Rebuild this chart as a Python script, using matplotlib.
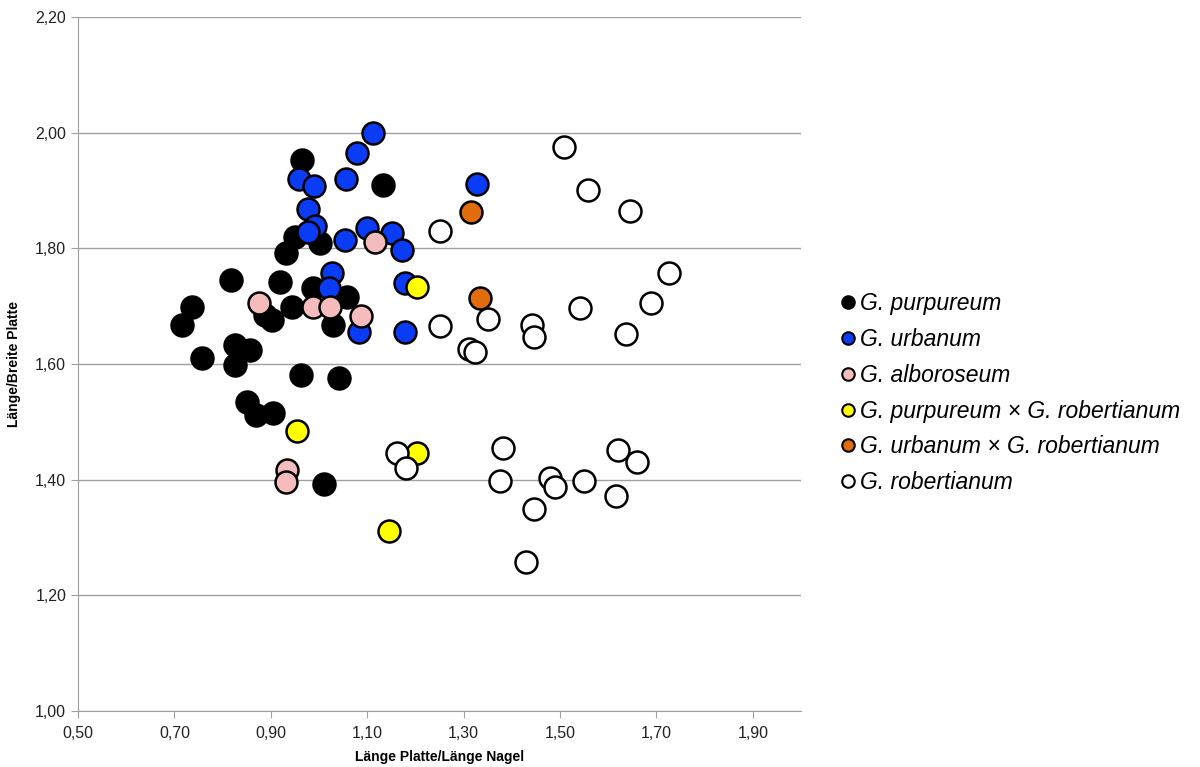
import matplotlib
matplotlib.use("Agg")
import matplotlib.pyplot as plt
from matplotlib.ticker import FuncFormatter, FixedLocator, MultipleLocator

plt.rcParams['font.family'] = ['Liberation Sans', 'DejaVu Sans']

# ratio length plate / length claw (x) and length / width plate (y)
purpureum_x = [0.716, 0.737, 0.757, 0.817, 0.826, 0.826, 0.857, 0.851, 0.869, 0.905,
               0.888, 0.902, 0.919, 0.944, 0.932, 0.950, 0.965, 0.963, 0.988, 1.002,
               1.029, 1.058, 1.041, 1.010, 1.133]
purpureum_y = [1.668, 1.699, 1.610, 1.745, 1.633, 1.598, 1.624, 1.534, 1.512, 1.515,
               1.685, 1.676, 1.742, 1.699, 1.792, 1.820, 1.953, 1.581, 1.731, 1.809,
               1.667, 1.716, 1.576, 1.392, 1.910]

urbanum_x = [1.112, 1.079, 0.959, 0.990, 1.056, 0.977, 0.992, 0.977, 1.054, 1.100,
             1.151, 1.172, 1.027, 1.021, 1.178, 1.083, 1.178, 1.328]
urbanum_y = [2.000, 1.965, 1.920, 1.908, 1.920, 1.868, 1.839, 1.828, 1.814, 1.835,
             1.826, 1.797, 1.757, 1.731, 1.740, 1.655, 1.655, 1.911]

alboroseum_x = [0.876, 0.988, 1.023, 1.087, 1.116, 0.934, 0.932]
alboroseum_y = [1.705, 1.698, 1.698, 1.683, 1.811, 1.416, 1.396]

purp_x_rob_x = [1.203, 0.954, 1.203, 1.145]
purp_x_rob_y = [1.733, 1.484, 1.446, 1.311]

urb_x_rob_x = [1.315, 1.334]
urb_x_rob_y = [1.862, 1.714]

robertianum_x = [1.508, 1.558, 1.645, 1.251, 1.726, 1.689, 1.541, 1.637, 1.251, 1.351,
                 1.442, 1.446, 1.311, 1.324, 1.162, 1.180, 1.382, 1.376, 1.479, 1.490,
                 1.550, 1.620, 1.660, 1.616, 1.446, 1.429]
robertianum_y = [1.975, 1.901, 1.865, 1.830, 1.757, 1.705, 1.697, 1.652, 1.666, 1.678,
                 1.667, 1.647, 1.626, 1.621, 1.446, 1.420, 1.455, 1.398, 1.403, 1.388,
                 1.398, 1.451, 1.431, 1.372, 1.349, 1.258]

x_ticks = [0.5, 0.7, 0.9, 1.1, 1.3, 1.5, 1.7, 1.9]

series = [
    ('G. purpureum', purpureum_x, purpureum_y, '#000000'),
    ('G. urbanum', urbanum_x, urbanum_y, '#0a3cf5'),
    ('G. alboroseum', alboroseum_x, alboroseum_y, '#f4bcbc'),
    ('G. purpureum × G. robertianum', purp_x_rob_x, purp_x_rob_y, '#ffff00'),
    ('G. urbanum × G. robertianum', urb_x_rob_x, urb_x_rob_y, '#e06c0c'),
    ('G. robertianum', robertianum_x, robertianum_y, '#ffffff'),
]

fig = plt.figure(figsize=(12, 7.67), dpi=100)
ax = fig.add_axes([0.065, 0.073, 0.6025, 0.905])

handles = []
for label, xs, ys, color in series:
    ax.scatter(xs, ys, s=250, c=color, edgecolors='black', linewidths=1.8, zorder=3)
    h, = ax.plot([], [], 'o', markersize=9, markerfacecolor=color,
                 markeredgecolor='black', markeredgewidth=1.5, linestyle='none',
                 label=label)
    handles.append(h)

ax.set_xlim(0.5, 2.0)
ax.set_ylim(1.0, 2.2)
ax.xaxis.set_major_locator(FixedLocator(x_ticks))
ax.yaxis.set_major_locator(MultipleLocator(0.2))
comma = FuncFormatter(lambda v, pos: f"{v:.2f}".replace('.', ','))
ax.xaxis.set_major_formatter(comma)
ax.yaxis.set_major_formatter(comma)

ax.grid(axis='y', color='#a0a0a0', linewidth=1)
ax.set_axisbelow(True)
for side in ['top', 'right']:
    ax.spines[side].set_visible(False)
for side in ['left', 'bottom']:
    ax.spines[side].set_color('#a0a0a0')
ax.tick_params(axis='both', colors='#a0a0a0', labelcolor='#222222',
               labelsize=11.5, length=5, direction='out')
ax.tick_params(axis='x', pad=6)

ax.set_xlabel('Länge Platte/Länge Nagel', fontsize=10, fontweight='bold', labelpad=6)
ax.set_ylabel('Länge/Breite Platte', fontsize=10, fontweight='bold', labelpad=10)

leg = fig.legend(handles=handles, loc='upper left', bbox_to_anchor=(0.681, 0.646),
                 frameon=False, fontsize=16.5, handletextpad=0.05,
                 handlelength=0.9, labelspacing=0.56)
for t in leg.get_texts():
    t.set_fontstyle('italic')

fig.savefig('out.png', dpi=100)
